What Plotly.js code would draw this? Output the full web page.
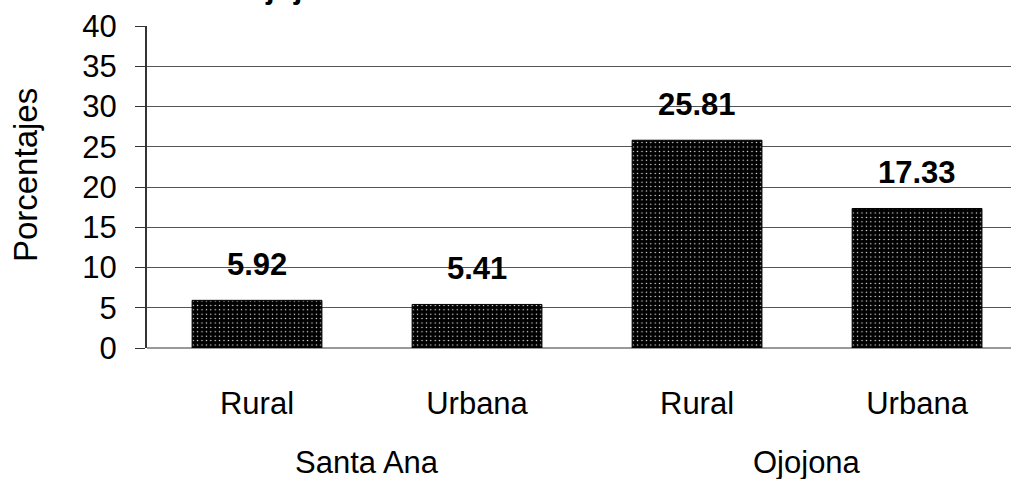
<!DOCTYPE html>
<html>
<head>
<meta charset="utf-8">
<script src="https://cdn.plot.ly/plotly-3.0.1.min.js"></script>
<style>html,body{margin:0;padding:0;background:#fff;}#chart{width:1011px;height:479px;}</style>
</head>
<body>
<div id="chart"></div>
<script>
const categories = ["Rural", "Urbana", "Rural ", "Urbana "];
const tickLabels = ["Rural", "Urbana", "Rural", "Urbana"];
const values = [5.92, 5.41, 25.81, 17.33];
const valueLabels = ["5.92", "5.41", "25.81", "17.33"];
const groups = ["Santa Ana", "Ojojona"];
const groupMembers = [[0, 1], [2, 3]];
const titleText = "Ojojona: Extrema Pobreza Rural-Urbana";
const yTitle = "Porcentajes";
const yTicks = [0, 5, 10, 15, 20, 25, 30, 35, 40];

const FONT = "Arial, 'Liberation Sans', sans-serif";

const trace = {
  type: "bar",
  x: categories,
  y: values,
  width: 0.59,
  marker: {
    color: "#000",
    line: {color: "#000", width: 1},
    pattern: {shape: ".", fgcolor: "#ffffff", bgcolor: "#000", size: 4.4, solidity: 0.08}
  },
  hoverinfo: "none"
};

const annotations = [];
values.forEach((v, i) => {
  annotations.push({
    x: categories[i], y: v, xref: "x", yref: "y",
    text: "<b>" + valueLabels[i] + "</b>", showarrow: false,
    yanchor: "middle", yshift: 36,
    font: {family: FONT, size: 31, color: "#000"}
  });
});
groups.forEach((g, k) => {
  const m = groupMembers[k];
  annotations.push({
    x: (m[0] + m[1]) / 2, y: 0, xref: "x", yref: "paper",
    text: g, showarrow: false, yanchor: "middle", yshift: -114,
    font: {family: FONT, size: 31, color: "#000"}
  });
});
annotations.push({
  x: 0, y: 0.537, xref: "paper", yref: "paper", xanchor: "center", yanchor: "middle",
  xshift: -122, text: yTitle, textangle: -90, showarrow: false,
  font: {family: FONT, size: 33, color: "#000"}
});
annotations.push({
  x: 0.4525, y: 1, xref: "paper", yref: "paper", xanchor: "center", yanchor: "bottom",
  yshift: 19, text: "<b>" + titleText + "</b>", showarrow: false,
  font: {family: FONT, size: 31, color: "#000"}
});

const layout = {
  width: 1011, height: 479,
  margin: {l: 147, r: 0, t: 26, b: 131, pad: 0},
  paper_bgcolor: "#fff", plot_bgcolor: "#fff",
  showlegend: false,
  font: {family: FONT, size: 31, color: "#000"},
  xaxis: {
    type: "category",
    range: [-0.5, 3.427],
    tickmode: "array", tickvals: categories, ticktext: tickLabels,
    showgrid: false, showline: false, zeroline: false,
    ticks: "", ticklabelstandoff: 34,
    tickfont: {family: FONT, size: 31, color: "#000"},
    fixedrange: true
  },
  yaxis: {
    range: [0, 40],
    tickmode: "array", tickvals: yTicks,
    showgrid: true, gridcolor: "#555", gridwidth: 1,
    zeroline: true, zerolinecolor: "#999", zerolinewidth: 2,
    showline: true, linecolor: "#333", linewidth: 2,
    ticks: "outside", ticklen: 10, tickcolor: "#333", tickwidth: 1,
    ticklabelstandoff: 12,
    tickfont: {family: FONT, size: 31, color: "#000"},
    fixedrange: true
  },
  annotations: annotations
};

Plotly.newPlot("chart", [trace], layout, {displayModeBar: false, staticPlot: true});
</script>
</body>
</html>
